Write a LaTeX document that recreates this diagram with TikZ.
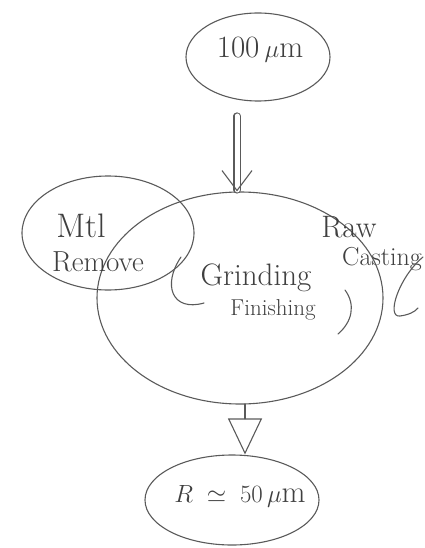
\documentclass[tikz,border=0pt]{standalone}
\usepackage{amsmath,amssymb}
\usetikzlibrary{shapes.geometric,arrows.meta}
\definecolor{pen}{HTML}{5A5A5A}
\tikzset{
  bubble/.style={draw=pen, line width=1.1pt, ellipse, inner sep=0pt},
  hand/.style={text=pen!70!black, inner sep=0pt},
  stroke/.style={draw=pen, line width=1.1pt, line cap=round},
}
\newcommand{\fsz}[1]{\fontsize{#1}{#1}\selectfont}
\begin{document}
\begin{tikzpicture}[x=1pt,y=-1pt]
\useasboundingbox (0,0) rectangle (424,548);
% ellipses
\node[bubble, minimum width=144pt, minimum height=88pt] (top) at (258,57) {};
\node[bubble, minimum width=172pt, minimum height=114pt] (mtl) at (108,233) {};
\node[bubble, minimum width=286pt, minimum height=212pt] (main) at (240,298) {};
\node[bubble, minimum width=174pt, minimum height=90pt] (res) at (232,500) {};
% texts
\node[hand, font=\fsz{31}] (t100) at (260,50) {100\,$\mu$m};
\node[hand, font=\fsz{34}] (tmtl) at (81,226) {Mtl};
\node[hand, font=\fsz{29}] (trem) at (98,262) {Remove};
\node[hand, font=\fsz{31}] (traw) at (349,227) {Raw};
\node[hand, font=\fsz{26}, anchor=west] (tcast) at (342,259) {Casting};
\node[hand, font=\fsz{31}] (tgr) at (256,278) {Grinding};
\node[hand, font=\fsz{23}] (tfin) at (273,310) {Finishing};
\node[hand, font=\fsz{31}] (tR) at (240,496) {$R\;\simeq\;50\,\mu$m};
% arrows
\coordinate (a1) at (237,116);
\draw[stroke, double=white, double distance=5pt, -{Straight Barb[length=20pt,width=30pt,line width=1.1pt]}]
  (a1) -- (a1 |- main.north);
\coordinate (b1) at (245,404);
\draw[stroke, -{Triangle[open,length=36pt,width=34pt,line width=1.1pt]}]
  (b1) -- (b1 |- res.north);
% bracket strokes
\coordinate (pl1) at (181,257);
\coordinate (pl2) at (204,303);
\draw[stroke] (pl1) .. controls (162,285) and (172,312) .. (pl2);
\coordinate (pr1) at (345,290);
\coordinate (pr2) at (338,334);
\draw[stroke] (pr1) .. controls (356,305) and (352,322) .. (pr2);
\coordinate (g1) at (423,257);
\coordinate (g2) at (418,308);
\draw[stroke] (g1) .. controls (398,278) and (386,318) .. (400,316) .. controls (408,315) and (415,312) .. (g2);
\end{tikzpicture}
\end{document}
